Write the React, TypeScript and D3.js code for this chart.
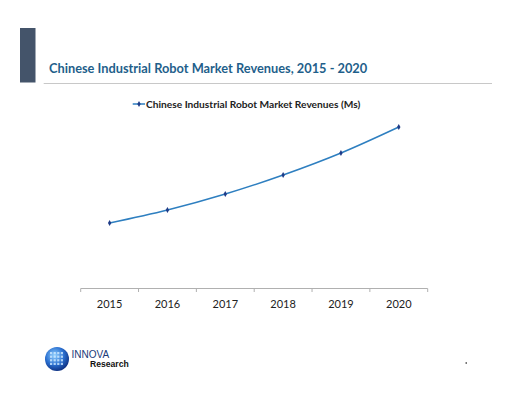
import React from "react";
import * as d3 from "d3";

const years = ["2015", "2016", "2017", "2018", "2019", "2020"];
const revenues = [6.5, 7.8, 9.4, 11.3, 13.5, 16.1];

const W = 512;
const H = 394;

export default function App() {
  const x = d3.scaleBand().domain(years).range([80.7, 427.7]);
  const y = d3.scaleLinear().domain([0, 20]).range([288, 88]);
  const pts = years.map((yr, i) => [x(yr)! + x.bandwidth() / 2, y(revenues[i])] as [number, number]);
  const line = d3.line().curve(d3.curveMonotoneX)(pts) || "";
  const ticks = [...years.map((yr) => x(yr)!), 427.7];
  const diamond = d3.symbol(d3.symbolDiamond, 10)() || "";

  return (
    <svg
      width={W}
      height={H}
      style={{ position: "absolute", left: 0, top: 0, background: "#fff" }}
    >
      <defs>
        <radialGradient id="globe" cx="40%" cy="35%" r="70%">
          <stop offset="0%" stopColor="#8fd0ff" />
          <stop offset="55%" stopColor="#2a6fd0" />
          <stop offset="100%" stopColor="#0b2a7a" />
        </radialGradient>
      </defs>

      {/* header */}
      <rect x={20} y={28} width={15.5} height={54.5} fill="#44546a" />
      <text x={49} y={73} fontFamily="Lato, sans-serif" fontWeight="bold" fontSize={12.8} fill="#1f5f8b">
        Chinese Industrial Robot Market Revenues, 2015 - 2020
      </text>
      <line x1={43.7} x2={492} y1={83.5} y2={83.5} stroke="#c8c8c8" strokeWidth={1} />

      {/* legend */}
      <line x1={132.7} x2={145} y1={104} y2={104} stroke="#2e7fc0" strokeWidth={1.5} />
      <path d={diamond} transform="translate(139,104)" fill="#1f3c88" />
      <text x={146} y={107.5} fontFamily="Lato, sans-serif" fontWeight="bold" fontSize={10.2} fill="#222">
        Chinese Industrial Robot Market Revenues (Ms)
      </text>

      {/* series */}
      <path d={line} fill="none" stroke="#2e7fc0" strokeWidth={1.5} />
      {pts.map((p, i) => (
        <path key={i} d={diamond} transform={`translate(${p[0]},${p[1]})`} fill="#1f3c88" />
      ))}

      {/* x axis */}
      <line x1={80.7} x2={427.7} y1={288.5} y2={288.5} stroke="#b0b0b0" />
      {ticks.map((t, i) => (
        <line key={i} x1={t} x2={t} y1={288.5} y2={292} stroke="#b0b0b0" />
      ))}
      {years.map((yr) => (
        <text
          key={yr}
          x={x(yr)! + x.bandwidth() / 2}
          y={308}
          textAnchor="middle"
          fontFamily="Lato, sans-serif"
          fontSize={11}
          fill="#222"
        >
          {yr}
        </text>
      ))}

      {/* logo */}
      <circle cx={57} cy={359} r={12} fill="url(#globe)" />
      {d3.range(4).map((r) =>
        d3.range(4).map((c) => (
          <rect
            key={`${r}-${c}`}
            x={50 + c * 3.6}
            y={352 + r * 3.6}
            width={2.2}
            height={2.2}
            fill="#cfeaff"
            opacity={0.8}
          />
        ))
      )}
      <text x={71.5} y={358} fontFamily="Arial, Liberation Sans, sans-serif" fontSize={10} fill="#1a3a78">
        INNOVA
      </text>
      <text x={90} y={367} fontFamily="Arial, Liberation Sans, sans-serif" fontWeight="bold" fontSize={8.6} fill="#111">
        Research
      </text>

      <rect x={465.5} y={362} width={1.5} height={2} fill="#777" />
    </svg>
  );
}
